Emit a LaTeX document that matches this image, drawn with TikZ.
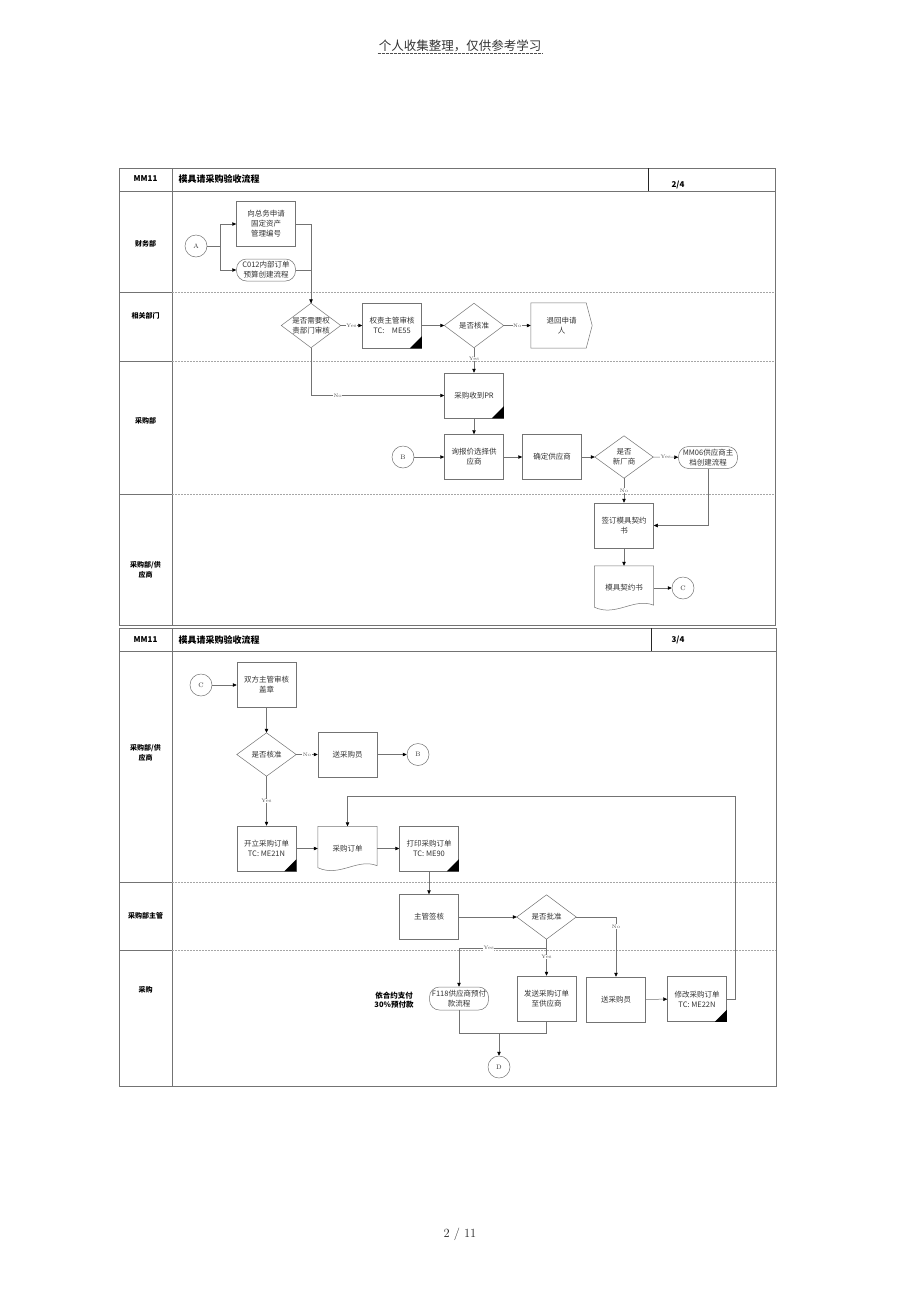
\documentclass[tikz,border=0pt]{standalone}
\usepackage{fontspec}
\newfontfamily\cjk{Noto Sans CJK SC}
\usetikzlibrary{arrows.meta,calc}
\begin{document}
\begin{tikzpicture}[x=1pt,y=-1pt,
 every node/.style={font=\cjk\fontsize{7.5}{10}\selectfont, text=black!80},
 ln/.style={draw=black!55, line width=0.5pt},
 arr/.style={ln, -{Triangle[length=4pt,width=3.5pt,color=black]}},
 frame/.style={draw=black!55, line width=0.6pt},
 lane/.style={draw=black!35, line width=0.5pt, dash pattern=on 2pt off 1pt},
 proc/.style={ln, rectangle, minimum width=59pt, minimum height=45pt, align=center, inner sep=1pt},
 term/.style={ln, rectangle, rounded corners=10pt, minimum width=59pt, minimum height=22pt, align=center, inner sep=1pt},
 diabox/.style={rectangle, minimum width=59pt, minimum height=44pt, align=center, inner sep=0pt},
 docbox/.style={rectangle, minimum width=59pt, minimum height=44pt, align=center, inner sep=0pt},
 pentbox/.style={rectangle, minimum width=61pt, minimum height=45pt, align=center, inner sep=0pt},
 conn/.style={ln, circle, minimum size=22pt, inner sep=0pt, font=\rmfamily\fontsize{6.5}{8}\selectfont},
 yn/.style={fill=white, inner sep=0.6pt, font=\rmfamily\fontsize{5}{5}\selectfont, text=black!70},
 hb/.style={font=\cjk\bfseries\fontsize{8}{10}\selectfont, text=black},
 lanelbl/.style={font=\cjk\bfseries\fontsize{7}{9.5}\selectfont, text=black, align=center}
]
\useasboundingbox (0,0) rectangle (920,1301);

% page header / footer
\node[font=\cjk\fontsize{12.5}{14}\selectfont, text=black!80, inner sep=1pt] (pagehdr) at (460,46) {个人收集整理，仅供参考学习};
\draw[black!70, line width=0.6pt, dash pattern=on 3pt off 1pt] ($(pagehdr.south west)+(0,0.5)$) -- ($(pagehdr.south east)+(0,0.5)$);
\node[font=\rmfamily\fontsize{12.5}{14}\selectfont, text=black!85] (pagenum) at (460,1234) {2 / 11};

% ================= Diagram 1 =================
\draw[frame] (119,168) rectangle (775,625);
\draw[frame] (119,191) -- (775,191);
\draw[frame] (172,168) -- (172,625);
\draw[draw=black!85, line width=0.6pt] (648,168) -- (648,191);
\foreach \yy in {292,361,494}{
  \draw[frame] (119,\yy) -- (172,\yy);
  \draw[lane] (172,\yy) -- (775,\yy);
}
\node[hb] (h1a) at (145.5,179) {MM11};
\node[hb, font=\cjk\bfseries\fontsize{9}{10}\selectfont, anchor=west] (h1b) at (175,179) {模具请采购验收流程};
\node[hb] (h1c) at (678,185) {2/4};
\node[lanelbl] (l1a) at (145.5,244) {财务部};
\node[lanelbl] (l1b) at (145.5,316) {相关部门};
\node[lanelbl] (l1c) at (145.5,421) {采购部};
\node[lanelbl] (l1d) at (145.5,570) {采购部/供\\应商};

\node[conn] (A1) at (196,246) {A};
\node[proc] (n1) at (266,224) {向总务申请\\固定资产\\管理编号};
\node[term] (t1) at (266,270) {C012内部订单\\预算创建流程};
\coordinate (j1) at (220,246);
\draw[ln] (A1) -- (j1);
\draw[arr] (j1) |- (n1);
\draw[arr] (j1) |- (t1);

\node[diabox] (d1) at (311,325.5) {是否需要权\\责部门审核};
\draw[ln] (t1.east) -| (d1.north);
\draw[arr] (n1.east) -| (d1.north);
\node[proc] (n2) at (392,325.5) {权责主管审核\\TC:\quad ME55};
\draw[arr] (d1.east) -- node[yn]{Yes} (n2);
\node[diabox] (d2) at (474,325.5) {是否核准};
\draw[arr] (n2) -- (d2.west);
\node[pentbox] (n3) at (561.5,325.5) {退回申请\\人};
\draw[arr] (d2.east) -- node[yn]{No} (n3.west);
\node[proc] (n4) at (474,395.5) {采购收到PR};
\draw[arr] (d2.south) -- node[yn, pos=0.45]{Yes} (n4);
\draw[arr] (d1.south) |- node[yn, pos=0.6]{No} (n4.west);
\node[proc] (n5) at (474,457) {询报价选择供\\应商};
\draw[arr] (n4) -- (n5);
\node[conn] (B1) at (403,457) {B};
\draw[arr] (B1) -- (n5);
\node[proc] (n6) at (552,457) {确定供应商};
\draw[arr] (n5) -- (n6);
\node[diabox, minimum width=58pt, minimum height=42pt] (d3) at (624,457) {是否\\新厂商};
\draw[arr] (n6) -- (d3.west);
\node[term] (t2) at (708,457.5) {MM06供应商主\\档创建流程};
\draw[arr] (d3.east) -- node[yn]{Yes} (t2);
\node[proc] (n7) at (624,525.5) {签订模具契约\\书};
\draw[arr] (d3.south) -- node[yn]{No} (n7);
\draw[arr] (t2.south) |- (n7.east);
\node[docbox] (doc1) at (624,588) {模具契约书};
\draw[arr] (n7) -- (doc1);
\node[conn] (C1) at (683,588) {C};
\draw[arr] (doc1.east) -- (C1);

% ================= Diagram 2 =================
\draw[frame] (119,628) rectangle (776,1086);
\draw[frame] (119,651) -- (776,651);
\draw[frame] (172,628) -- (172,1086);
\draw[draw=black!85, line width=0.6pt] (651,628) -- (651,651);
\foreach \yy in {882,950}{
  \draw[frame] (119,\yy) -- (172,\yy);
  \draw[lane] (172,\yy) -- (776,\yy);
}
\node[hb] (h2a) at (145.5,640) {MM11};
\node[hb, font=\cjk\bfseries\fontsize{9}{10}\selectfont, anchor=west] (h2b) at (175,640) {模具请采购验收流程};
\node[hb] (h2c) at (678,640) {3/4};
\node[lanelbl] (l2a) at (145.5,753) {采购部/供\\应商};
\node[lanelbl] (l2b) at (145.5,916) {采购部主管};
\node[lanelbl] (l2c) at (145.5,990) {采购};

\node[conn] (C2) at (201,685) {C};
\node[proc] (m1) at (266.5,685) {双方主管审核\\盖章};
\draw[arr] (C2) -- (m1);
\node[diabox, minimum height=43pt] (e1) at (266.5,754.5) {是否核准};
\draw[arr] (m1) -- (e1.north);
\node[proc] (m2) at (347.5,754.5) {送采购员};
\draw[arr] (e1.east) -- node[yn]{No} (m2);
\node[conn] (B2) at (418,754.5) {B};
\draw[arr] (m2) -- (B2);
\node[proc] (m3) at (266.5,848.5) {开立采购订单\\TC:\ ME21N};
\draw[arr] (e1.south) -- node[yn]{Yes} (m3);
\node[docbox] (doc2) at (347.5,848.5) {采购订单};
\draw[arr] (m3) -- (doc2);
\node[proc] (m4) at (429,848.5) {打印采购订单\\TC:\ ME90};
\draw[arr] (doc2) -- (m4);
\node[proc] (m5) at (429,917) {主管签核};
\draw[arr] (m4) -- (m5);
\node[diabox] (e2) at (546.5,917) {是否批准};
\draw[arr] (m5) -- (e2.west);
\node[proc] (m6) at (546.5,998.5) {发送采购订单\\至供应商};
\draw[arr] (e2.south) -- node[yn, pos=0.49]{Yes} (m6);
\node[term, minimum height=23pt] (t3) at (459,998.5) {F118供应商预付\\款流程};
\coordinate (k1) at ($(e2.south)+(0,9)$);
\draw[arr] (k1) -| node[yn, pos=0.33]{Yes} (t3.north);
\node[proc] (m7) at (616,999.5) {送采购员};
\draw[arr] (e2.east) -| node[yn, pos=0.58]{No} (m7.north);
\node[proc] (m8) at (697,999) {修改采购订单\\TC:\ ME22N};
\draw[arr] (m7) -- (m8);
\coordinate (r1) at (735,796);
\draw[arr] (m8.east) -| (r1) -| (doc2.north);
\coordinate (k2) at (459,1033);
\coordinate (k3) at (546.5,1033);
\coordinate (k4) at (499,1033);
\draw[ln] (t3.south) -- (k2) -- (k3) -- (m6.south);
\node[conn] (D1) at (499,1067) {D};
\draw[arr] (k4) -- (D1);
\node[font=\cjk\bfseries\fontsize{7.5}{9.5}\selectfont, text=black, align=center] (note) at (394,1000) {依合约支付\\30\%预付款};

% ---- diamonds ----
\foreach \d in {d1,d2,d3,e1,e2}{
  \draw[ln] (\d.north) -- (\d.east) -- (\d.south) -- (\d.west) -- cycle;
}
% ---- documents ----
\foreach \d in {doc1,doc2}{
  \draw[ln] ($(\d.south west)+(0,-3)$) -- (\d.north west) -- (\d.north east) -- ($(\d.south east)+(0,-5)$)
    .. controls ($(\d.south east)+(-20,-13)$) and ($(\d.south west)+(22,7)$) .. ($(\d.south west)+(0,-3)$);
}
% ---- pentagon ----
\draw[ln] (n3.north west) -- ($(n3.north east)+(-6,0)$) -- (n3.east) -- ($(n3.south east)+(-6,0)$) -- (n3.south west) -- cycle;
% ---- black corner marks ----
\foreach \b in {n2,n4,m3,m4,m8}{
  \fill[black] (\b.south east) -- ($(\b.south east)+(-12,0)$) -- ($(\b.south east)+(0,-12)$) -- cycle;
}
\end{tikzpicture}
\end{document}
